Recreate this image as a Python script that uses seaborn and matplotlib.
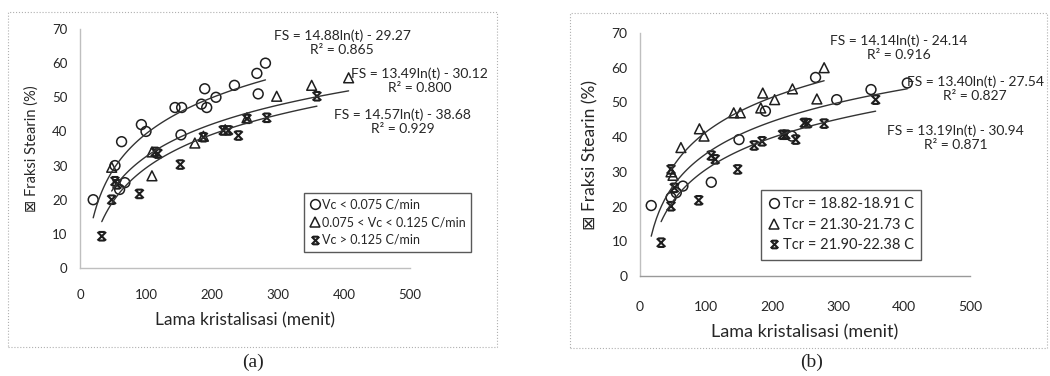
#importing libraries
import numpy as np
import matplotlib
matplotlib.use('Agg')
import matplotlib.pyplot as plt
import seaborn as sns
from matplotlib.path import Path
from matplotlib.patches import Rectangle

sns.set_style('white')
plt.rcParams['font.family'] = ['Lato', 'DejaVu Sans']

#----- panel (a): grouped by cooling rate
a_circ_t = [20, 53, 63, 60, 68, 93, 100, 144, 154, 153, 189, 184, 192, 206, 234, 268, 281, 270]
a_circ_fs = [20, 30, 37, 23, 25, 42, 40, 47, 47, 39, 52.5, 48, 47, 50, 53.5, 57, 60, 51]
a_tri_t = [48, 109, 109, 174, 187, 220, 253, 298, 351, 407]
a_tri_fs = [29.5, 34, 27, 36.6, 38.6, 40.5, 44, 50.3, 53.5, 55.7]
a_star_t = [33, 48, 53, 56, 90, 114, 118, 152, 187, 217, 225, 240, 253, 283, 359]
a_star_fs = [9.3, 20, 25.4, 24.5, 21.7, 34, 33.5, 30.3, 38.3, 40.3, 40.3, 38.8, 43.7, 44, 50.3]

#----- panel (b): grouped by crystallisation temperature
b_circ_t = [17, 47, 55, 65, 108, 150, 190, 230, 266, 298, 350, 405]
b_circ_fs = [20.3, 22.6, 24, 25.9, 27, 39.3, 47.5, 40.3, 57.2, 50.8, 53.7, 55.6]
b_tri_t = [47, 50, 62, 90, 97, 142, 152, 183, 186, 204, 231, 268, 279]
b_tri_fs = [30, 29, 37, 42.4, 40.3, 47, 47, 48.4, 52.7, 50.8, 53.9, 51, 60]
b_star_t = [32, 47, 47, 52, 89, 108, 114, 148, 173, 185, 216, 221, 236, 249, 254, 279, 357]
b_star_fs = [9.6, 20.1, 30.7, 25.4, 21.8, 34.7, 33.6, 30.7, 37.6, 38.8, 40.7, 40.7, 39.3, 44.1, 44, 43.9, 50.8]

a_labels = ['Vc < 0.075 C/min', '0.075 < Vc < 0.125 C/min', 'Vc > 0.125 C/min']
b_labels = ['Tcr = 18.82-18.91 C', 'Tcr = 21.30-21.73 C', 'Tcr = 21.90-22.38 C']
a_eqs = ['FS = 14.88ln(t) - 29.27\nR\u00b2 = 0.865', 'FS = 13.49ln(t) - 30.12\nR\u00b2 = 0.800',
         'FS = 14.57ln(t) - 38.68\nR\u00b2 = 0.929']
b_eqs = ['FS = 14.14ln(t) - 24.14\nR\u00b2 = 0.916', 'FS = 13.40ln(t) - 27.54\nR\u00b2 = 0.827',
         'FS = 13.19ln(t) - 30.94\nR\u00b2 = 0.871']

# excel-like "star" marker: an X with caps top and bottom
star = Path([(-1, -1), (1, 1), (-1, 1), (1, -1), (-0.7, 1), (0.7, 1), (-0.7, -1), (0.7, -1)],
            [Path.MOVETO, Path.LINETO] * 4)
markers = ['o', '^', star]
txt = '#262626'
mk = '#1e1e1e'

fig = plt.figure(figsize=(10.5, 3.76), dpi=100)
ax_a = fig.add_axes([80/1050, 1-268/376, 330/1050, 239/376])
ax_b = fig.add_axes([640/1050, 1-276/376, 330/1050, 243/376])

def draw_panel(ax, groups, labels, eqs, eq_pos, eq_size):
    handles = []
    for (t, fs), m, lab in zip(groups, markers, labels):
        sns.regplot(x=np.array(t), y=np.array(fs), logx=True, ci=None, marker=m, ax=ax,
                    color=mk, truncate=True,
                    scatter_kws=dict(facecolors='none', s=50 if m != star else 38, alpha=1,
                                     linewidths=1.1 if m != star else 1.5),
                    line_kws=dict(color='#333333', lw=1.0))
        handles.append(plt.Line2D([], [], ls='none', marker=m, mfc='none', mec=mk,
                                  ms=7 if m != star else 5.5, mew=1.1 if m != star else 1.5, label=lab))
    for e, (x, y) in zip(eqs, eq_pos):
        ax.text(x, y, e, ha='center', va='center', fontsize=eq_size, color=txt,
                linespacing=1.15, clip_on=False)
    ax.set_xlim(0, 500)
    ax.set_ylim(0, 70)
    ax.set_xticks(range(0, 501, 100))
    ax.set_yticks(range(0, 71, 10))
    sns.despine(ax=ax)
    for s in ['left', 'bottom']:
        ax.spines[s].set_color('#bfbfbf')
        ax.spines[s].set_linewidth(1.0)
    ax.tick_params(length=0, labelsize=9.5, labelcolor=txt)
    return handles

h = draw_panel(ax_a, [(a_circ_t, a_circ_fs), (a_tri_t, a_tri_fs), (a_star_t, a_star_fs)],
               a_labels, a_eqs, [(397, 66), (515, 54.8), (489, 42.9)], 10)
ax_a.tick_params(axis='x', pad=15)
ax_a.tick_params(axis='y', pad=9)
ax_a.set_xlabel('Lama kristalisasi (menit)', fontsize=12.5, color=txt, labelpad=8)
ax_a.set_ylabel('\u22a0 Fraksi Stearin (%)', fontsize=10.5, color=txt, labelpad=10)
leg = ax_a.legend(handles=h, loc='upper left', bbox_to_anchor=((304-80)/330, (268-193)/239),
                  frameon=True, fancybox=False, fontsize=9, handlelength=0.8, handletextpad=0.15,
                  borderpad=0.45, labelspacing=0.45, borderaxespad=0)
leg.get_frame().set_edgecolor('#303030')
leg.get_frame().set_linewidth(1.0)
for t in leg.get_texts():
    t.set_color(txt)

h = draw_panel(ax_b, [(b_circ_t, b_circ_fs), (b_tri_t, b_tri_fs), (b_star_t, b_star_fs)],
               b_labels, b_eqs, [(392, 65.8), (508, 54), (478, 39.9)], 10)
ax_b.tick_params(labelsize=10)
ax_b.tick_params(axis='x', pad=18)
ax_b.tick_params(axis='y', pad=9)
ax_b.set_xlabel('Lama kristalisasi (menit)', fontsize=13, color=txt, labelpad=8)
ax_b.set_ylabel('\u22a0 Fraksi Stearin (%)', fontsize=12.5, color=txt, labelpad=9)
ax_b.spines['bottom'].set_color('#999999')
leg = ax_b.legend(handles=h, loc='upper left', bbox_to_anchor=((761-640)/330, (276-190)/243),
                  frameon=True, fancybox=False, fontsize=10.5, handlelength=0.8, handletextpad=0.2,
                  borderpad=0.5, labelspacing=0.45, borderaxespad=0)
leg.get_frame().set_edgecolor('#303030')
leg.get_frame().set_linewidth(1.0)
for t in leg.get_texts():
    t.set_color(txt)

# dotted chart-area borders
fig.patches.append(Rectangle((8/1050, 1-347/376), 489/1050, 335/376, transform=fig.transFigure,
                             fill=False, ec='#b0b0b0', lw=0.8, ls=':'))
fig.patches.append(Rectangle((570/1050, 1-348/376), 477/1050, 335/376, transform=fig.transFigure,
                             fill=False, ec='#b0b0b0', lw=0.8, ls=':'))

fig.text(253/1050, 1-362/376, '(a)', ha='center', va='center', fontsize=14,
         family='Liberation Serif', color='#222222')
fig.text(812/1050, 1-362/376, '(b)', ha='center', va='center', fontsize=14,
         family='Liberation Serif', color='#222222')

fig.savefig('out.png', dpi=100)
